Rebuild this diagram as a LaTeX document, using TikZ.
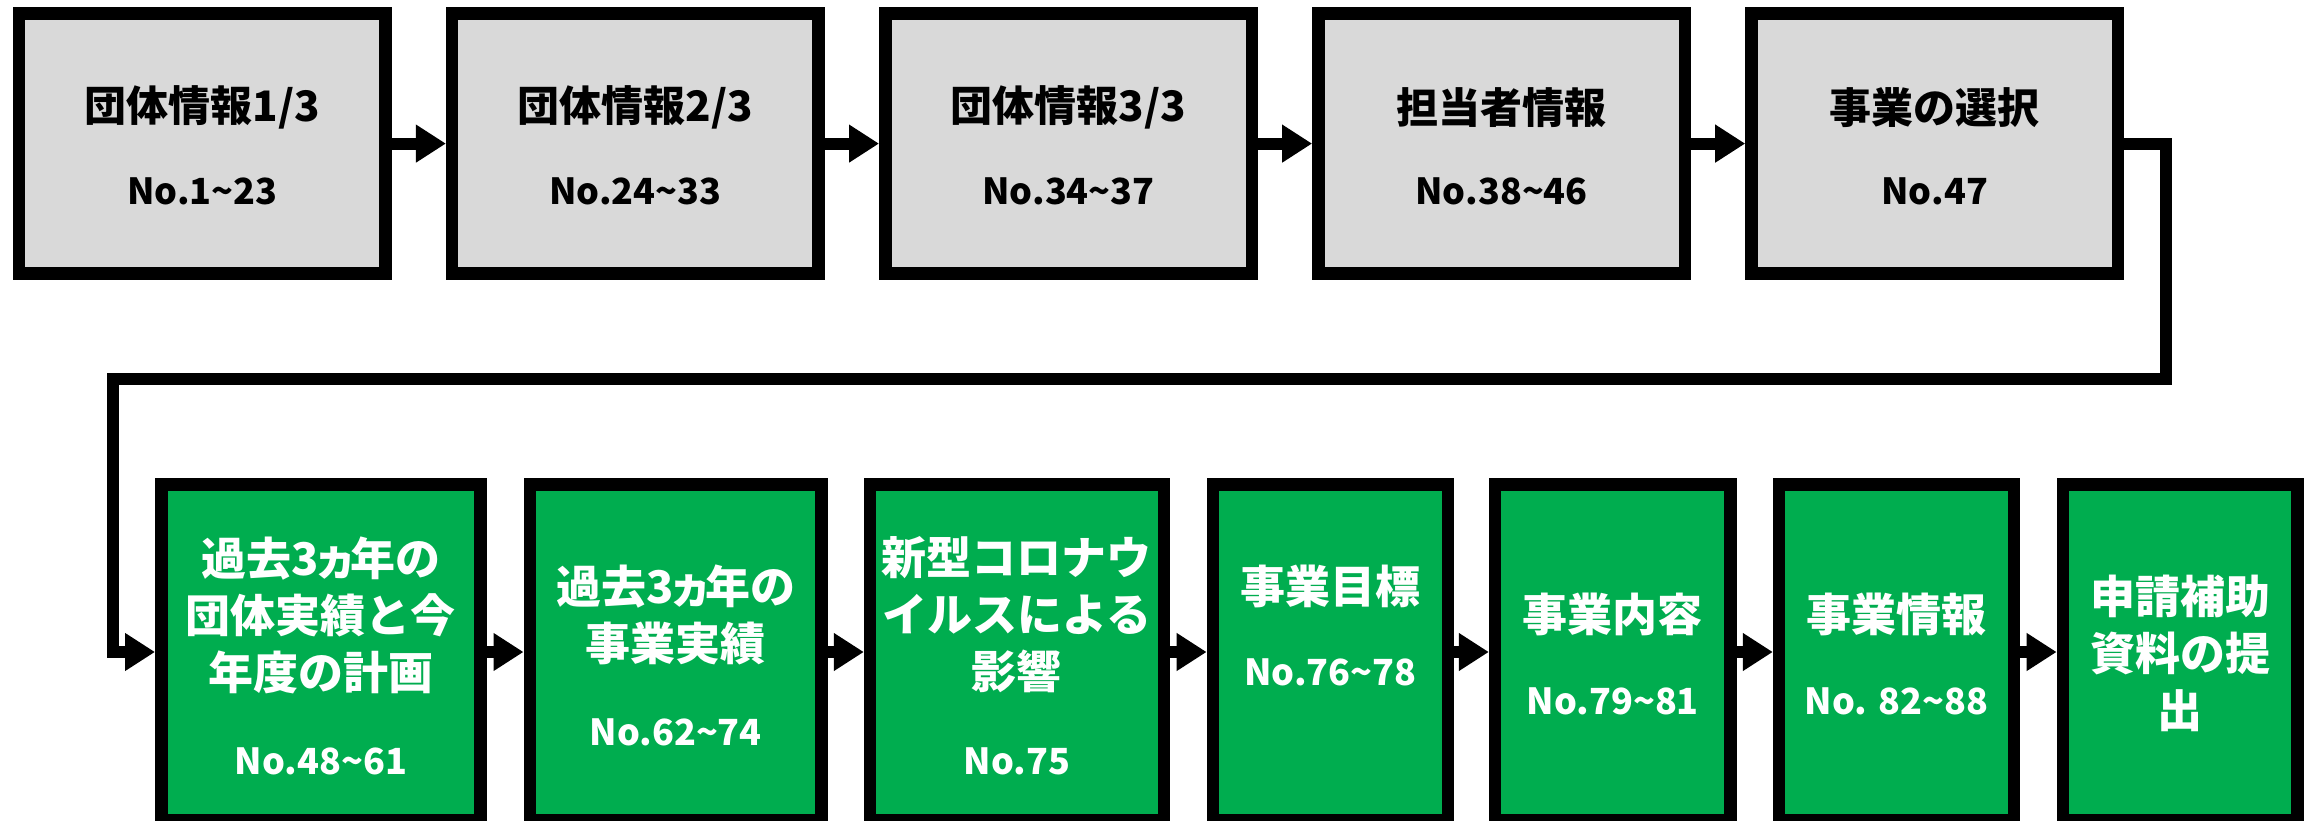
\documentclass[tikz,border=0pt]{standalone}
\usepackage{fontspec}
\setmainfont{Noto Sans CJK JP}
\usetikzlibrary{arrows.meta}
\definecolor{boxgray}{HTML}{D9D9D9}
\definecolor{boxgreen}{HTML}{00AD4F}
\newcommand{\smallka}{\kern-0.12em ヵ\kern-0.18em}
\tikzset{
  frame/.style={draw=black, line width=12.5pt, inner sep=0pt},
  graybox/.style={frame, fill=boxgray, minimum width=366.5pt, minimum height=260.2pt},
  greenbox/.style={frame, fill=boxgreen, minimum height=335.5pt},
  flow/.style={line width=12pt, -{Triangle[length=30pt,width=36pt]}},
  ttl/.style={inner sep=0pt, font=\fontsize{42}{50}\selectfont\bfseries, text=black},
  num/.style={inner sep=0pt, font=\fontsize{36}{42}\selectfont\bfseries, text=black},
  gttl/.style={inner sep=0pt, align=center, font=\fontsize{45}{57}\selectfont\bfseries, text=white},
  gnum/.style={inner sep=0pt, font=\fontsize{36}{42}\selectfont\bfseries, text=white},
}
\begin{document}
\begin{tikzpicture}[x=1pt,y=-1pt]
\useasboundingbox (0,0) rectangle (2316,821);
% top row
\node[graybox] (b1) at (202.3,143.6) {};
\node[graybox] (b2) at (635.4,143.6) {};
\node[graybox] (b3) at (1068.5,143.6) {};
\node[graybox] (b4) at (1501.6,143.6) {};
\node[graybox] (b5) at (1934.7,143.6) {};
\node[ttl] (t1) at (202.3,107.5) {団体情報1/3};
\node[num] (n1) at (202.3,191) {No.1\textasciitilde23};
\node[ttl] (t2) at (635.4,107.5) {団体情報2/3};
\node[num] (n2) at (635.4,191) {No.24\textasciitilde33};
\node[ttl] (t3) at (1068.5,107.5) {団体情報3/3};
\node[num] (n3) at (1068.5,191) {No.34\textasciitilde37};
\node[ttl] (t4) at (1501.6,107.5) {担当者情報};
\node[num] (n4) at (1501.6,191) {No.38\textasciitilde46};
\node[ttl] (t5) at (1934.7,107.5) {事業の選択};
\node[num] (n5) at (1934.7,191) {No.47};
% bottom row
\node[greenbox, minimum width=319.3pt] (b6) at (320.9,652) {};
\node[greenbox, minimum width=291.8pt] (b7) at (675.65,652) {};
\node[greenbox, minimum width=293.7pt] (b8) at (1016.9,652) {};
\node[greenbox, minimum width=234.9pt] (b9) at (1330.3,652) {};
\node[greenbox, minimum width=235.3pt] (b10) at (1612.7,652) {};
\node[greenbox, minimum width=234.7pt] (b11) at (1896.4,652) {};
\node[greenbox, minimum width=234.7pt] (b12) at (2180.2,652) {};
\node[gttl] (t6) at (320.9,615.5) {過去3\smallka 年の\\団体実績と今\\年度の計画};
\node[gnum] (n6) at (320.9,761) {No.48\textasciitilde61};
\node[gttl] (t7) at (675.65,614.5) {過去3\smallka 年の\\事業実績};
\node[gnum] (n7) at (675.65,732) {No.62\textasciitilde74};
\node[gttl] (t8) at (1016.9,615) {新型コロナウ\\イルスによる\\影響};
\node[gnum] (n8) at (1016.9,761) {No.75};
\node[gttl] (t9) at (1330.3,586) {事業目標};
\node[gnum] (n9) at (1330.3,672) {No.76\textasciitilde78};
\node[gttl] (t10) at (1612.7,614) {事業内容};
\node[gnum] (n10) at (1612.7,701) {No.79\textasciitilde81};
\node[gttl] (t11) at (1896.4,614) {事業情報};
\node[gnum] (n11) at (1896.4,701) {No. 82\textasciitilde88};
\node[gttl] (t12) at (2180.2,653) {申請補助\\資料の提\\出};
% connectors
\draw[flow] (b1.east) -- (b2.west);
\draw[flow] (b2.east) -- (b3.west);
\draw[flow] (b3.east) -- (b4.west);
\draw[flow] (b4.east) -- (b5.west);
\coordinate (c1) at (2165.5,379);
\coordinate (c2) at (113,379);
\draw[flow] (b5.east) -| (c1) -- (c2) |- (b6.west);
\draw[flow] (b6.east) -- (b7.west);
\draw[flow] (b7.east) -- (b8.west);
\draw[flow] (b8.east) -- (b9.west);
\draw[flow] (b9.east) -- (b10.west);
\draw[flow] (b10.east) -- (b11.west);
\draw[flow] (b11.east) -- (b12.west);
\end{tikzpicture}
\end{document}
